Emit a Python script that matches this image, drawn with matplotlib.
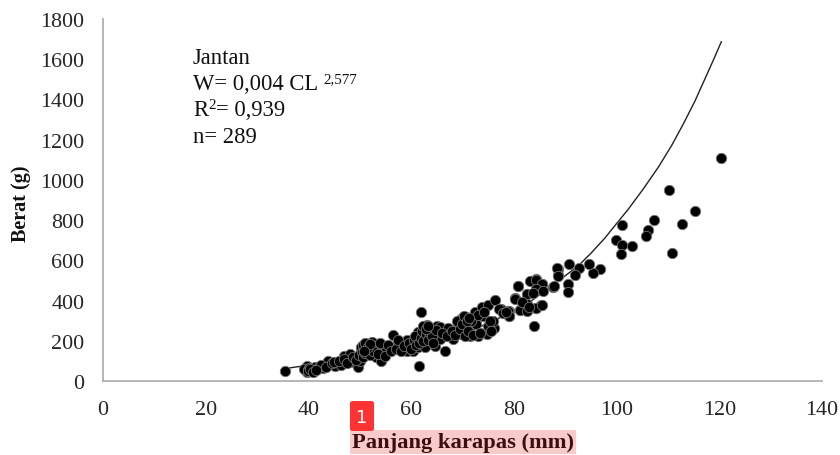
"""Scatter of carapace length against weight (males) with its fitted curve."""

import matplotlib

matplotlib.use("Agg")
import matplotlib.pyplot as plt
from matplotlib.patches import FancyBboxPatch

plt.rcParams.update({"font.family": ["Liberation Serif", "DejaVu Serif"], "font.size": 15.8})

length_mm = [
    120.4, 110.3, 115.3, 112.7, 110.7, 107.2, 106.2, 105.8, 103.1, 101.0, 99.9, 101.1, 100.9,
    96.8, 95.5, 94.6, 90.7, 92.6, 92.0, 88.5, 88.6, 90.5, 90.6, 87.7, 85.4, 84.3, 83.3, 80.9,
    82.5, 80.2, 85.3, 84.3, 82.5, 81.2, 79.1, 79.0, 77.5, 84.0, 62.0, 61.5, 35.4, 66.6,
    39.7, 39.7, 40.6, 41.6, 42.9, 43.8, 45.2, 46.3, 46.9, 48.0, 48.1, 49.7, 50.0,
    50.7, 50.3, 51.3, 52.3, 51.6, 53.1, 54.4, 53.1, 54.2, 54.9, 56.5, 56.2, 58.1, 59.2, 59.1,
    60.4, 61.4, 62.7, 61.4, 62.7, 62.7, 63.6, 65.0, 65.6, 64.6, 65.6, 67.2, 68.2, 69.2, 69.8,
    70.8, 70.1, 69.8, 72.4, 73.7, 75.0, 76.4, 74.0, 72.7, 71.4, 73.1, 74.7, 76.1, 75.0, 76.0,
    77.1, 78.9, 79.1, 81.2, 82.5, 80.2, 82.5, 80.9, 83.2, 84.3, 85.4, 84.4, 85.7, 87.8, 84.3,
    85.4, 88.4, 88.6,
    39.2, 40.0, 40.2, 41.0, 41.2, 42.0, 42.5, 43.4, 44.5, 45.0, 46.0, 47.0, 47.5, 48.6, 49.2,
    49.8, 50.2, 50.4, 50.6, 50.9, 51.1, 51.4, 51.8, 52.0, 52.6, 53.5, 54.0, 55.0, 55.5, 56.0,
    57.0, 57.5, 58.0, 58.6, 59.5, 60.0, 60.5, 60.8, 61.0, 61.6, 62.0, 62.2, 62.4, 62.8, 63.0,
    63.2, 63.5, 64.0, 64.2, 64.8, 66.0, 67.0, 68.0, 68.6, 69.0, 69.5, 70.0, 70.4, 70.6, 71.0,
    71.6, 72.0, 73.0, 73.4, 74.2, 75.4, 75.6, 77.8, 78.4, 81.6, 83.0, 83.8,
    39.9, 40.4, 40.8, 41.4, 50.6, 51.0, 51.6, 52.0, 50.9, 62.3, 62.9, 63.3, 70.3, 70.9, 71.3,
]
weight_g = [
    1111, 950, 847, 781, 638, 800, 751, 719, 670, 777, 703, 676, 632,
    557, 537, 582, 583, 563, 525, 557, 529, 481, 443, 469, 482, 507, 499, 472,
    433, 411, 379, 361, 383, 353, 322, 350, 358, 272, 341, 76, 48, 149,
    73, 43, 51, 60, 63, 98, 76, 81, 123, 133, 93, 68, 101,
    126, 159, 184, 196, 151, 172, 176, 118, 101, 143, 231, 168, 184, 204, 151,
    151, 168, 168, 242, 267, 234, 259, 275, 267, 176, 209, 262, 209, 272, 234,
    267, 317, 308, 342, 366, 378, 405, 322, 284, 226, 222, 234, 264, 275, 300,
    358, 350, 322, 353, 350, 408, 433, 471, 499, 504, 482, 458, 449, 471, 361,
    378, 560, 524,
    62, 55, 66, 48, 70, 68, 80, 72, 88, 92, 100, 110, 90, 118, 105,
    130, 170, 145, 120, 165, 140, 175, 160, 130, 150, 135, 190, 125, 180, 150,
    160, 205, 150, 175, 190, 160, 205, 225, 180, 190, 215, 250, 200, 235, 280,
    205, 245, 225, 190, 255, 240, 225, 250, 230, 300, 260, 285, 225, 320, 250,
    300, 230, 330, 240, 345, 300, 250, 340, 345, 395, 370, 440,
    48, 58, 44, 54, 178, 190, 170, 185, 150, 275, 260, 272, 325, 300, 315,
]

curve_x = [35.5, 39, 42, 45, 50, 55, 60, 65, 70, 74, 78, 83.1, 88.4, 92.5, 95, 97.7, 99.4,
           102.3, 105.2, 108.1, 110.7, 113, 115.3, 117.2, 118.8, 120.4]
curve_y = [62, 75, 85, 97, 118, 140, 165, 197, 235, 276, 323, 393, 492, 572, 635, 710, 764,
           855, 955, 1062, 1170, 1278, 1394, 1502, 1593, 1687]

x_ticks = [0, 20, 40, 60, 80, 100, 120, 140]
y_ticks = [0, 200, 400, 600, 800, 1000, 1200, 1400, 1600, 1800]

GREY = "#b0b0b0"
TICK_COLOR = "#262626"

fig = plt.figure(figsize=(8.4, 4.56), dpi=100)
ax = fig.add_axes([103 / 840, 1 - 382 / 456, 719 / 840, 362 / 456])

ax.plot(curve_x, curve_y, color="#222222", lw=1.0, zorder=2)
ax.scatter(length_mm, weight_g, s=56, color="black", edgecolors="#777777", linewidths=0.6, zorder=3)

ax.set_xlim(0, 140)
ax.set_ylim(0, 1800)
ax.set_xticks(x_ticks)
ax.set_yticks(y_ticks)
ax.tick_params(length=0, pad=13.5, colors=TICK_COLOR)
for side in ("top", "right"):
    ax.spines[side].set_visible(False)
for side in ("left", "bottom"):
    ax.spines[side].set_color(GREY)
    ax.spines[side].set_linewidth(1.3)

# y label and the x label with its pink highlight
fig.text(21 / 840, 1 - 204 / 456, "Berat (g)", rotation=90, ha="center", va="center",
         fontweight="bold", fontsize=14.5, color="#111111")
fig.text(463 / 840, 1 - 443 / 456, "Panjang karapas (mm)", ha="center", va="center",
         fontweight="bold", fontsize=16.2, color="#3a0f0f",
         bbox=dict(facecolor="#f9caca", edgecolor="none", pad=1.2))

# equation block, one text per piece so the superscripts can be smaller
block_x = 193 / 840
fig.text(block_x, 1 - 59 / 456, "Jantan", va="center", fontsize=16.3, color="#111111")
fig.text(block_x, 1 - 85 / 456, "W= 0,004 CL", va="center", fontsize=16.3, color="#111111")
fig.text(323 / 840, 1 - 80 / 456, "2,577", va="center", fontsize=10.8, color="#111111")
fig.text(block_x, 1 - 111 / 456, "R", va="center", fontsize=16.3, color="#111111")
fig.text(208 / 840, 1 - 106 / 456, "2", va="center", fontsize=10.8, color="#111111")
fig.text(216 / 840, 1 - 111 / 456, "= 0,939", va="center", fontsize=16.3, color="#111111")
fig.text(block_x, 1 - 138 / 456, "n= 289", va="center", fontsize=16.3, color="#111111")

# numbered red badge sitting over the chart
badge = FancyBboxPatch((350 / 840, 1 - 432 / 456), 24 / 840, 30 / 456, transform=fig.transFigure,
                       boxstyle="round,pad=0,rounding_size=0.004", facecolor="#ff3333",
                       edgecolor="none", zorder=5)
fig.add_artist(badge)
fig.text(362 / 840, 1 - 418 / 456, "1", ha="center", va="center", color="white",
         fontsize=13, family="DejaVu Sans", zorder=6)

fig.savefig("out.png", dpi=100)
plt.close(fig)
